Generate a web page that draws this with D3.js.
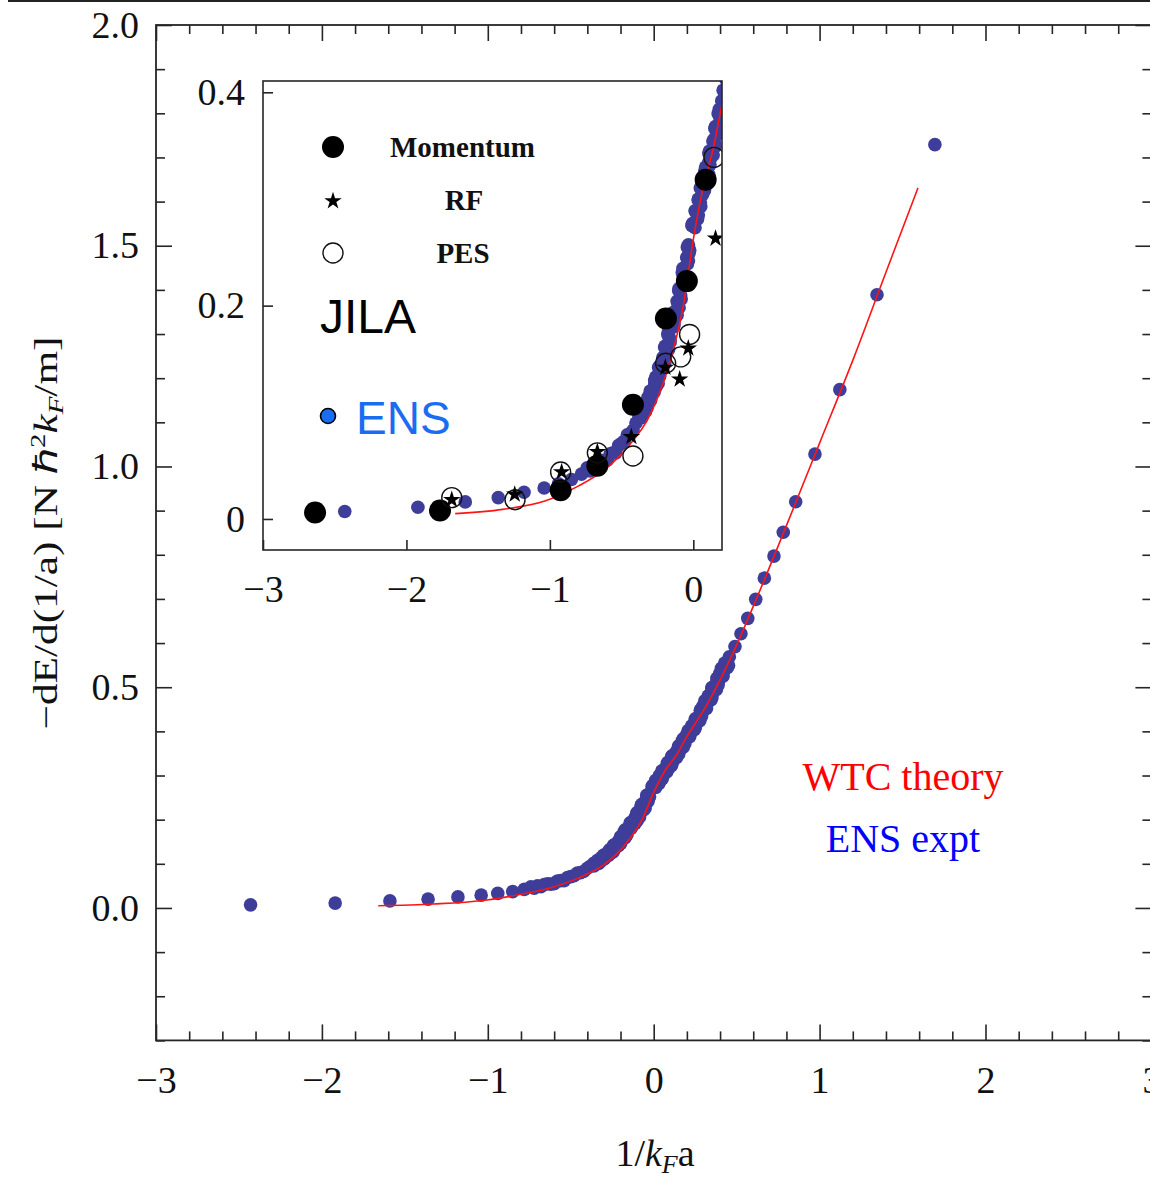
<!DOCTYPE html>
<html>
<head>
<meta charset="utf-8">
<script src="https://cdn.jsdelivr.net/npm/d3@7/dist/d3.min.js"></script>
<style>
  html, body { margin: 0; padding: 0; background: #fff; }
  svg { display: block; }
</style>
</head>
<body>
<svg id="chart" width="1150" height="1180"></svg>
<script>
// ---- data --------------------------------------------------------------
// ENS experiment: [1/kF a, -dE/d(1/a)]
const ensData = [
  [-2.43, 0.007], [-1.92, 0.011], [-1.59, 0.016], [-1.36, 0.020], [-1.18, 0.025],
  [-1.04, 0.029], [-0.94, 0.033], [-0.85, 0.037], [-0.78, 0.042],
  [-0.74, 0.048], [-0.72, 0.045], [-0.70, 0.050], [-0.68, 0.048], [-0.66, 0.053],
  [-0.64, 0.055], [-0.62, 0.054], [-0.60, 0.055], [-0.58, 0.061], [-0.56, 0.062],
  [-0.54, 0.062], [-0.52, 0.069], [-0.50, 0.071], [-0.48, 0.073], [-0.46, 0.079],
  [-0.44, 0.080], [-0.42, 0.083], [-0.40, 0.090], [-0.38, 0.095], [-0.36, 0.095],
  [-0.332, 0.101], [-0.356, 0.102], [-0.324, 0.107], [-0.338, 0.108], [-0.298, 0.113],
  [-0.308, 0.114], [-0.273, 0.119], [-0.294, 0.120], [-0.267, 0.126], [-0.245, 0.127],
  [-0.262, 0.133], [-0.244, 0.135], [-0.212, 0.141], [-0.237, 0.143], [-0.201, 0.149],
  [-0.206, 0.152], [-0.172, 0.159], [-0.196, 0.162], [-0.164, 0.169], [-0.178, 0.173],
  [-0.138, 0.180], [-0.148, 0.183], [-0.113, 0.191], [-0.134, 0.194], [-0.107, 0.202],
  [-0.085, 0.206], [-0.102, 0.214], [-0.084, 0.218], [-0.052, 0.226], [-0.077, 0.231],
  [-0.041, 0.239], [-0.046, 0.245], [-0.025, 0.252], [-0.034, 0.257],
  [0.012, 0.273], [-0.006, 0.277], [0.035, 0.285], [0.012, 0.289], [0.049, 0.297],
  [0.035, 0.300], [0.078, 0.308], [0.053, 0.311], [0.089, 0.319], [0.108, 0.323],
  [0.086, 0.330], [0.106, 0.334], [0.138, 0.341], [0.113, 0.345], [0.149, 0.352],
  [0.144, 0.356], [0.178, 0.364], [0.154, 0.368], [0.186, 0.376], [0.173, 0.380],
  [0.217, 0.388], [0.198, 0.392], [0.223, 0.400], [0.245, 0.404], [0.228, 0.412],
  [0.246, 0.416], [0.278, 0.424], [0.253, 0.429], [0.289, 0.438], [0.284, 0.443],
  [0.318, 0.452], [0.296, 0.457], [0.323, 0.466], [0.345, 0.471], [0.328, 0.480],
  [0.346, 0.485], [0.378, 0.495], [0.353, 0.500], [0.389, 0.510], [0.384, 0.515],
  [0.418, 0.525], [0.396, 0.530], [0.423, 0.540], [0.445, 0.545], [0.428, 0.555],
  // second run, same range
  [-0.360, 0.101], [-0.321, 0.105], [-0.331, 0.108], [-0.298, 0.111], [-0.316, 0.114],
  [-0.286, 0.117], [-0.301, 0.120], [-0.262, 0.123], [-0.268, 0.127], [-0.269, 0.130],
  [-0.234, 0.134], [-0.230, 0.138], [-0.242, 0.142], [-0.199, 0.146], [-0.213, 0.151],
  [-0.188, 0.156], [-0.200, 0.161], [-0.161, 0.166], [-0.171, 0.171], [-0.172, 0.177],
  [-0.134, 0.182], [-0.130, 0.187], [-0.142, 0.193], [-0.099, 0.198], [-0.113, 0.204],
  [-0.088, 0.210], [-0.100, 0.216], [-0.061, 0.222], [-0.071, 0.229], [-0.072, 0.235],
  [-0.034, 0.242], [-0.030, 0.249], [-0.042, 0.255],
  [-0.010, 0.275], [0.029, 0.281], [0.019, 0.287], [0.052, 0.293], [0.034, 0.299],
  [0.064, 0.304], [0.049, 0.310], [0.088, 0.315], [0.082, 0.321], [0.081, 0.327],
  [0.116, 0.332], [0.120, 0.338], [0.108, 0.343], [0.151, 0.349], [0.137, 0.354],
  [0.162, 0.360], [0.150, 0.366], [0.188, 0.372], [0.182, 0.378], [0.181, 0.384],
  [0.216, 0.390], [0.220, 0.396], [0.208, 0.402], [0.251, 0.408], [0.237, 0.414],
  [0.262, 0.420], [0.250, 0.427], [0.288, 0.434], [0.282, 0.441], [0.281, 0.448],
  [0.316, 0.455], [0.320, 0.462], [0.308, 0.469], [0.351, 0.476], [0.337, 0.483],
  [0.362, 0.490], [0.350, 0.498], [0.388, 0.505], [0.382, 0.513], [0.381, 0.520],
  [0.416, 0.528], [0.420, 0.535], [0.408, 0.543], [0.451, 0.550],
  // sparse points at large 1/kF a
  [0.456, 0.569], [0.49, 0.592], [0.526, 0.621], [0.567, 0.656], [0.615, 0.699],
  [0.667, 0.747], [0.725, 0.797], [0.781, 0.851], [0.856, 0.920], [0.972, 1.028],
  [1.122, 1.174], [1.346, 1.389], [1.695, 1.729]
];

// WTC theory curve
const wtcTheory = [
  [-1.66, 0.005], [-1.33, 0.009], [-1.03, 0.017], [-0.80, 0.031], [-0.62, 0.046],
  [-0.46, 0.067], [-0.30, 0.098], [-0.18, 0.140], [-0.07, 0.200], [0.00, 0.262],
  [0.07, 0.312], [0.14, 0.348], [0.19, 0.382], [0.32, 0.460], [0.48, 0.579],
  [0.60, 0.683], [0.80, 0.866], [1.00, 1.053], [1.21, 1.250], [1.40, 1.440],
  [1.593, 1.631]
];

// JILA measurements (inset)
const jilaMomentum = [
  [-2.637, 0.006], [-1.766, 0.008], [-0.925, 0.027], [-0.669, 0.050],
  [-0.421, 0.107], [-0.191, 0.188], [-0.045, 0.223], [0.086, 0.318]
];
const jilaRF = [
  [-1.684, 0.018], [-1.245, 0.023], [-0.918, 0.044], [-0.669, 0.063],
  [-0.432, 0.077], [-0.195, 0.142], [-0.095, 0.131], [-0.035, 0.160], [0.155, 0.263]
];
const jilaPES = [
  [-1.684, 0.020], [-1.243, 0.018], [-0.925, 0.044], [-0.669, 0.062],
  [-0.421, 0.059], [-0.193, 0.146], [-0.088, 0.152], [-0.026, 0.173], [0.144, 0.339]
];

// axis ticks
const mainXMajor = [-3, -2, -1, 0, 1, 2, 3];
const mainYMajor = [0.0, 0.5, 1.0, 1.5, 2.0];
const insetXTicks = [-3, -2, -1, 0];
const insetYTicks = [0, 0.2, 0.4];

// ---- drawing -----------------------------------------------------------
const svg = d3.select("#chart");
const serif = "'Liberation Serif', 'Times New Roman', serif";
const sans = "'Liberation Sans', Arial, sans-serif";
const ensColor = "#3e3e9a";
const lineColor = "#ff1414";
const frameColor = "#262626";

// thin rule across the top edge of the page
svg.append("line")
  .attr("x1", 8).attr("x2", 1150).attr("y1", 1).attr("y2", 1)
  .attr("stroke", "#222").attr("stroke-width", 2);

// main panel scales
const x = d3.scaleLinear().domain([-3, 3]).range([156, 1151.4]);
const y = d3.scaleLinear().domain([-0.3, 2.0]).range([1040.4, 25]);

const minorX = d3.range(-3, 3.001, 0.2).filter(v => Math.abs(v - Math.round(v)) > 1e-6);
const minorY = d3.range(-0.3, 2.001, 0.1).filter(v => Math.abs(v * 2 - Math.round(v * 2)) > 1e-6);

function styleAxis(g) {
  g.select(".domain").remove();
  g.selectAll(".tick line").attr("stroke", frameColor).attr("stroke-width", 1.6);
  g.selectAll(".tick text").attr("font-family", serif).attr("fill", "#111");
}

const main = svg.append("g");

// bottom
main.append("g").attr("transform", `translate(0,${y(-0.3)})`)
  .call(d3.axisBottom(x).tickValues(minorX).tickSize(-9).tickFormat(""))
  .call(styleAxis);
main.append("g").attr("transform", `translate(0,${y(-0.3)})`)
  .call(d3.axisBottom(x).tickValues(mainXMajor).tickSize(-16).tickPadding(26).tickFormat(d3.format("d")))
  .call(styleAxis)
  .call(g => g.selectAll(".tick text").attr("font-size", 38));
// top
main.append("g").attr("transform", `translate(0,${y(2.0)})`)
  .call(d3.axisTop(x).tickValues(minorX).tickSize(-9).tickFormat(""))
  .call(styleAxis);
main.append("g").attr("transform", `translate(0,${y(2.0)})`)
  .call(d3.axisTop(x).tickValues(mainXMajor).tickSize(-16).tickFormat(""))
  .call(styleAxis);
// left
main.append("g").attr("transform", `translate(${x(-3)},0)`)
  .call(d3.axisLeft(y).tickValues(minorY).tickSize(-9).tickFormat(""))
  .call(styleAxis);
main.append("g").attr("transform", `translate(${x(-3)},0)`)
  .call(d3.axisLeft(y).tickValues(mainYMajor).tickSize(-16).tickPadding(17).tickFormat(d3.format(".1f")))
  .call(styleAxis)
  .call(g => g.selectAll(".tick text").attr("font-size", 38));
// right
main.append("g").attr("transform", `translate(${x(3)},0)`)
  .call(d3.axisRight(y).tickValues(minorY).tickSize(-9).tickFormat(""))
  .call(styleAxis);
main.append("g").attr("transform", `translate(${x(3)},0)`)
  .call(d3.axisRight(y).tickValues(mainYMajor).tickSize(-16).tickFormat(""))
  .call(styleAxis);

// frame
main.append("rect")
  .attr("x", x(-3)).attr("y", y(2.0))
  .attr("width", x(3) - x(-3)).attr("height", y(-0.3) - y(2.0))
  .attr("fill", "none").attr("stroke", frameColor).attr("stroke-width", 1.8);

// ENS points + theory line
main.append("g").selectAll("circle").data(ensData).join("circle")
  .attr("cx", d => x(d[0])).attr("cy", d => y(d[1])).attr("r", 6.8)
  .attr("fill", ensColor);

const mainLine = d3.line().x(d => x(d[0])).y(d => y(d[1])).curve(d3.curveMonotoneX);
main.append("path").datum(wtcTheory)
  .attr("d", mainLine).attr("fill", "none")
  .attr("stroke", lineColor).attr("stroke-width", 1.6);

// panel labels
main.append("text").attr("x", 903).attr("y", 790).attr("text-anchor", "middle")
  .attr("font-family", serif).attr("font-size", 40).attr("fill", "#ff0000")
  .text("WTC theory");
main.append("text").attr("x", 903).attr("y", 852).attr("text-anchor", "middle")
  .attr("font-family", serif).attr("font-size", 40).attr("fill", "#0000ff")
  .text("ENS expt");

// axis titles
const xTitle = main.append("text").attr("x", 655).attr("y", 1166)
  .attr("text-anchor", "middle").attr("font-family", serif).attr("font-size", 38).attr("fill", "#111");
xTitle.append("tspan").text("1/");
xTitle.append("tspan").attr("font-style", "italic").text("k");
xTitle.append("tspan").attr("font-style", "italic").attr("font-size", 26).attr("dy", 7).text("F");
xTitle.append("tspan").attr("dy", -7).text("a");

const yTitle = main.append("text")
  .attr("transform", "translate(57,533) rotate(-90)")
  .attr("text-anchor", "middle").attr("font-family", serif).attr("font-size", 33).attr("fill", "#111")
  .attr("textLength", 393).attr("lengthAdjust", "spacingAndGlyphs");
yTitle.append("tspan").text("\u2212dE/d(1/a) [N \u210F");
yTitle.append("tspan").attr("font-size", 22).attr("dy", -12).text("2");
yTitle.append("tspan").attr("font-style", "italic").attr("dy", 12).text("k");
yTitle.append("tspan").attr("font-style", "italic").attr("font-size", 22).attr("dy", 6).text("F");
yTitle.append("tspan").attr("dy", -6).text("/m]");

// ---- inset -------------------------------------------------------------
const xi = d3.scaleLinear().domain([-3, 0.2]).range([263, 722]);
const yi = d3.scaleLinear().domain([-0.0291, 0.4106]).range([550, 81]);

const inset = svg.append("g");
inset.append("rect")
  .attr("x", xi(-3)).attr("y", yi(0.4106))
  .attr("width", xi(0.2) - xi(-3)).attr("height", yi(-0.0291) - yi(0.4106))
  .attr("fill", "#fff");

svg.append("clipPath").attr("id", "insetClip").append("rect")
  .attr("x", xi(-3)).attr("y", yi(0.4106))
  .attr("width", xi(0.2) - xi(-3)).attr("height", yi(-0.0291) - yi(0.4106));

const plot = inset.append("g").attr("clip-path", "url(#insetClip)");

plot.append("g").selectAll("circle").data(ensData).join("circle")
  .attr("cx", d => xi(d[0])).attr("cy", d => yi(d[1])).attr("r", 6.8)
  .attr("fill", ensColor);

const insetLine = d3.line().x(d => xi(d[0])).y(d => yi(d[1])).curve(d3.curveMonotoneX);
plot.append("path").datum(wtcTheory)
  .attr("d", insetLine).attr("fill", "none")
  .attr("stroke", lineColor).attr("stroke-width", 1.6);

plot.append("g").selectAll("circle").data(jilaMomentum).join("circle")
  .attr("cx", d => xi(d[0])).attr("cy", d => yi(d[1])).attr("r", 11)
  .attr("fill", "#000");
plot.append("g").selectAll("circle").data(jilaPES).join("circle")
  .attr("cx", d => xi(d[0])).attr("cy", d => yi(d[1])).attr("r", 10)
  .attr("fill", "none").attr("stroke", "#111").attr("stroke-width", 1.4);
const star = d3.symbol().type(d3.symbolStar).size(95);
plot.append("g").selectAll("path").data(jilaRF).join("path")
  .attr("transform", d => `translate(${xi(d[0])},${yi(d[1])})`)
  .attr("d", star).attr("fill", "#000");

// inset axes
inset.append("g").attr("transform", `translate(0,${yi(-0.0291)})`)
  .call(d3.axisBottom(xi).tickValues(insetXTicks).tickSize(-10).tickPadding(25).tickFormat(d3.format("d")))
  .call(styleAxis)
  .call(g => g.selectAll(".tick text").attr("font-size", 38));
inset.append("g").attr("transform", `translate(${xi(-3)},0)`)
  .call(d3.axisLeft(yi).tickValues(insetYTicks).tickSize(-10).tickPadding(18)
    .tickFormat(d => d === 0 ? "0" : d3.format(".1f")(d)))
  .call(styleAxis)
  .call(g => g.selectAll(".tick text").attr("font-size", 38));

inset.append("rect")
  .attr("x", xi(-3)).attr("y", yi(0.4106))
  .attr("width", xi(0.2) - xi(-3)).attr("height", yi(-0.0291) - yi(0.4106))
  .attr("fill", "none").attr("stroke", frameColor).attr("stroke-width", 1.6);

// inset legend
const legend = inset.append("g");
legend.append("circle").attr("cx", 333).attr("cy", 147).attr("r", 11).attr("fill", "#000");
legend.append("path").attr("transform", "translate(333,201)").attr("d", star).attr("fill", "#000");
legend.append("circle").attr("cx", 333).attr("cy", 253).attr("r", 10)
  .attr("fill", "none").attr("stroke", "#111").attr("stroke-width", 1.4);

legend.append("text").attr("x", 390).attr("y", 157)
  .attr("font-family", serif).attr("font-weight", "bold").attr("font-size", 29).attr("fill", "#111")
  .text("Momentum");
legend.append("text").attr("x", 464).attr("y", 210).attr("text-anchor", "middle")
  .attr("font-family", serif).attr("font-weight", "bold").attr("font-size", 29).attr("fill", "#111")
  .text("RF");
legend.append("text").attr("x", 463).attr("y", 263).attr("text-anchor", "middle")
  .attr("font-family", serif).attr("font-weight", "bold").attr("font-size", 29).attr("fill", "#111")
  .text("PES");

legend.append("text").attr("x", 320).attr("y", 333)
  .attr("font-family", sans).attr("font-size", 48).attr("fill", "#000")
  .text("JILA");

legend.append("circle").attr("cx", 328).attr("cy", 416).attr("r", 7.5)
  .attr("fill", "#1a6cf2").attr("stroke", "#000").attr("stroke-width", 1.6);
legend.append("text").attr("x", 356).attr("y", 434)
  .attr("font-family", sans).attr("font-size", 46).attr("fill", "#1a6cf2")
  .text("ENS");
</script>
</body>
</html>
